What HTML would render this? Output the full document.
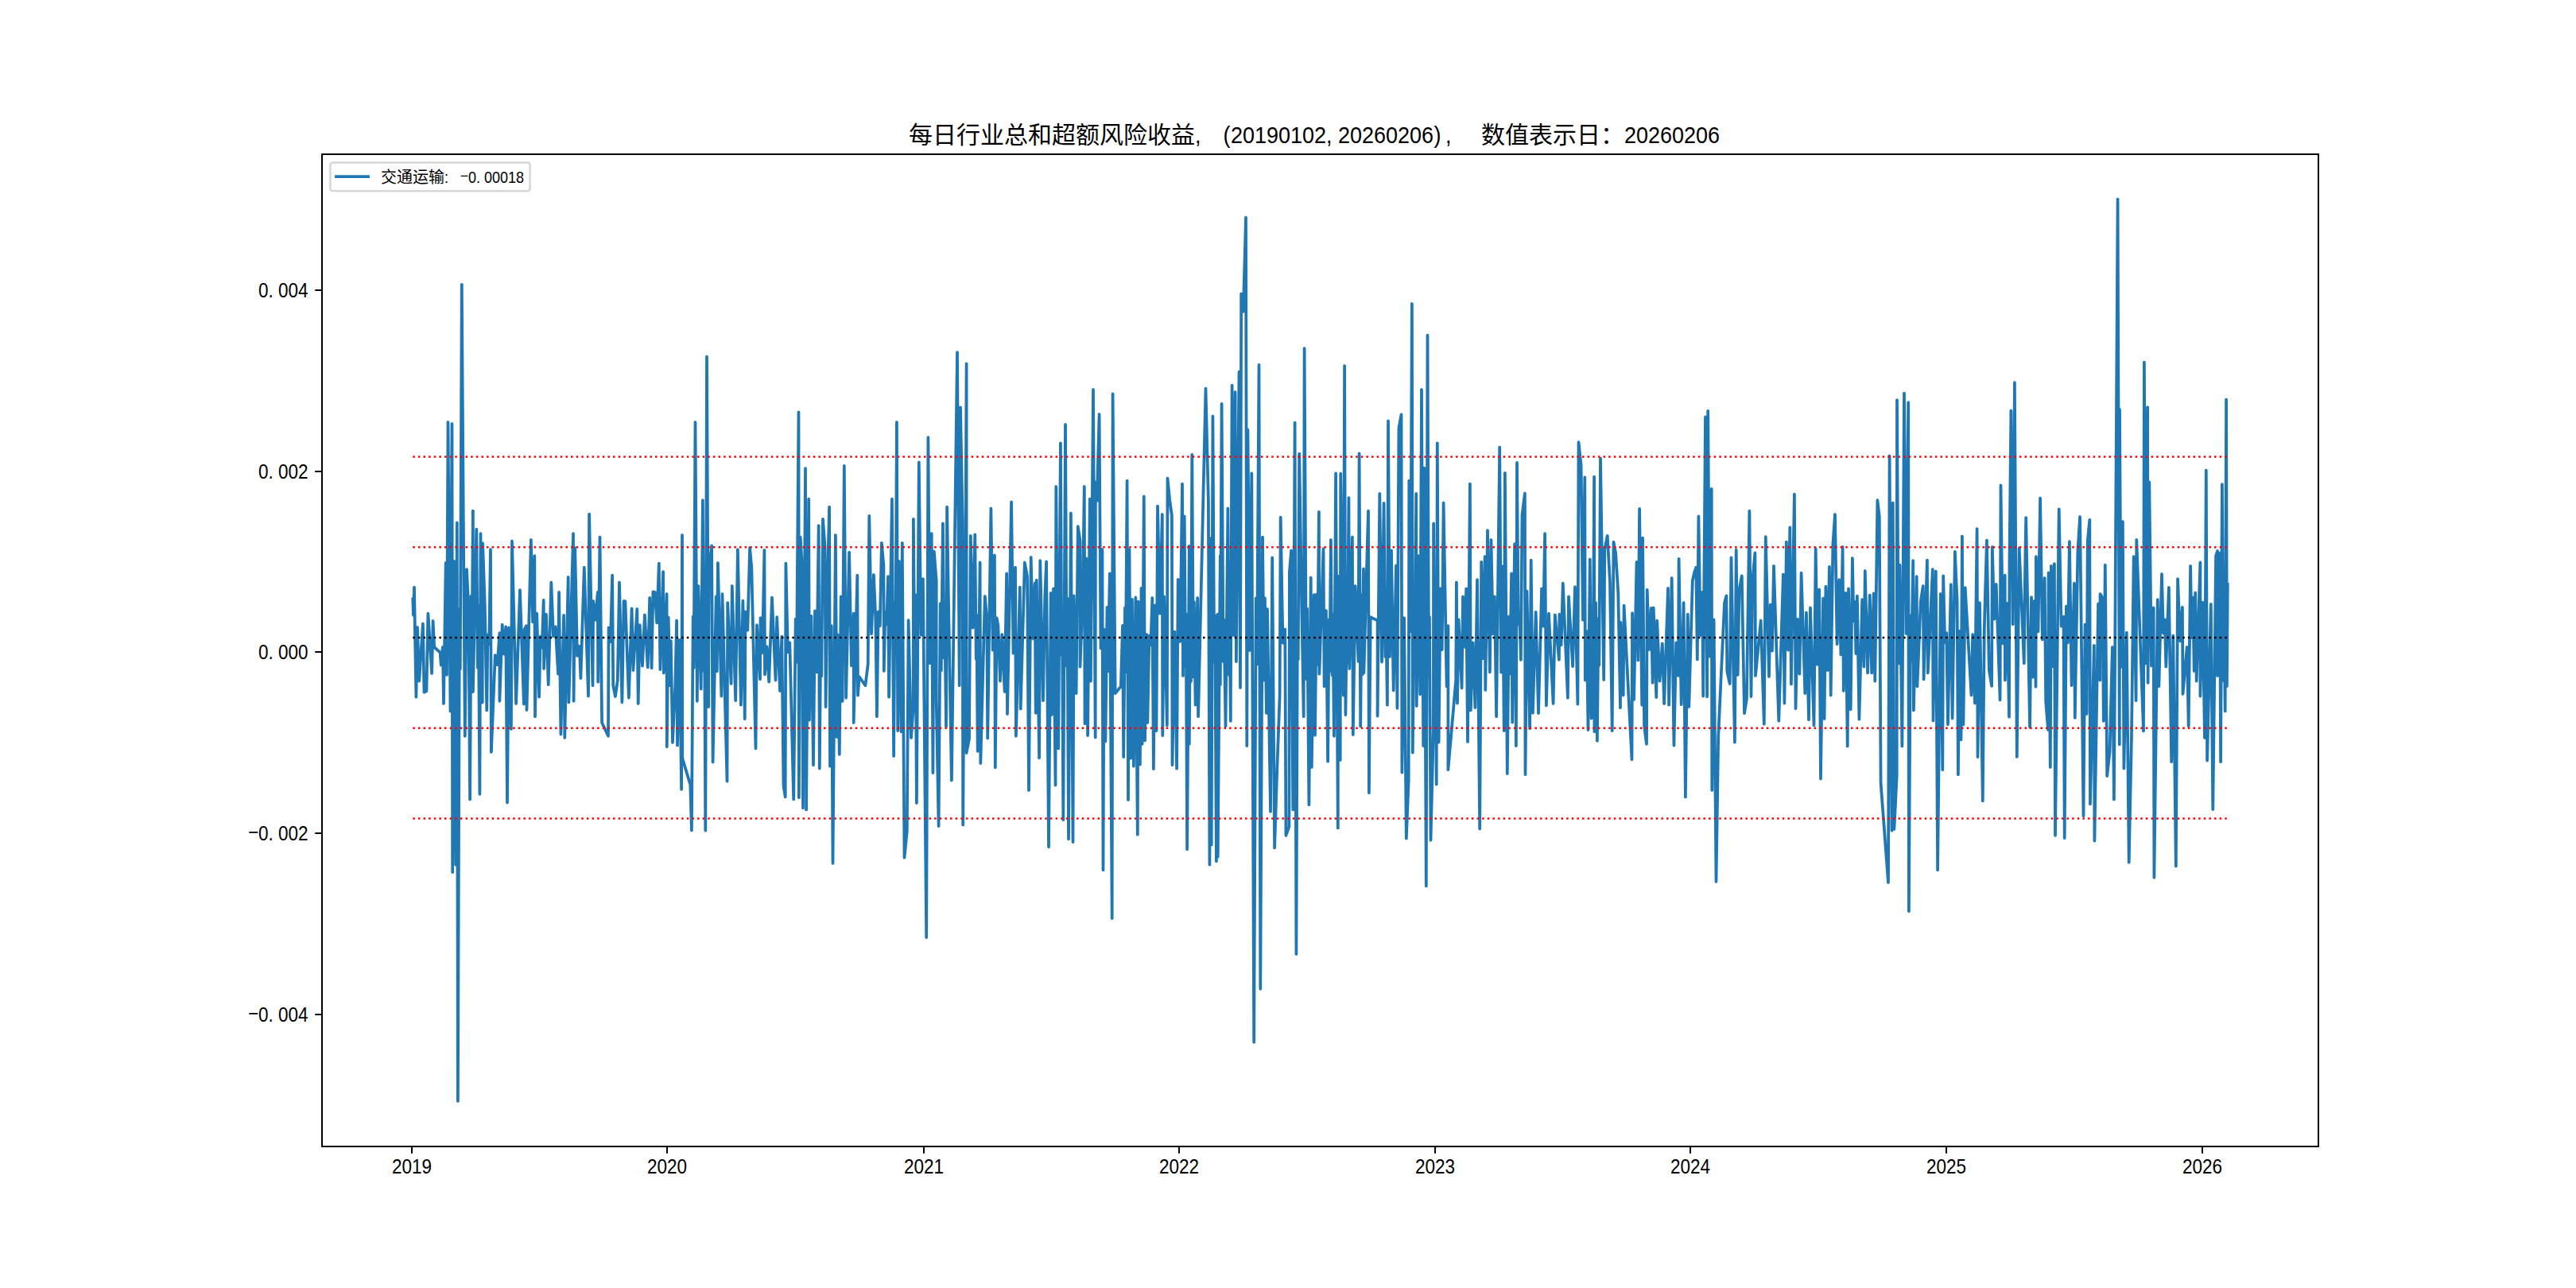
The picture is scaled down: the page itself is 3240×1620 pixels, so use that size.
<!DOCTYPE html>
<html lang="zh"><head><meta charset="utf-8"><title>每日行业总和超额风险收益</title>
<style>
html,body{margin:0;padding:0;background:#fff;}
body{width:3240px;height:1620px;overflow:hidden;}
svg{display:block;}
text{font-family:"Liberation Sans","Noto Sans CJK SC",sans-serif;fill:#000;}
.c{font-family:"Noto Sans CJK SC","WenQuanYi Zen Hei",sans-serif;}
</style></head><body>
<svg width="3240" height="1620" viewBox="0 0 3240 1620">
<rect width="3240" height="1620" fill="#fff"/>
<polyline fill="none" stroke="#1f77b4" stroke-width="3.75" stroke-linejoin="round" stroke-linecap="butt" points="519.2,751.5 519.9,773.8 521.0,738.6 523.4,876.7 525.0,789.0 527.2,856.6 531.9,784.5 533.5,870.7 536.4,869.3 538.4,771.6 543.1,847.0 544.6,781.0 546.2,814.0 553.6,820.7 554.7,836.5 556.9,814.0 558.0,885.0 560.7,708.0 562.0,848.8 563.5,531.0 566.5,894.5 568.5,533.0 569.2,1097.0 571.0,705.8 573.2,1087.6 574.8,657.3 575.9,1384.9 577.9,766.2 578.8,841.6 580.8,357.9 583.0,677.9 584.8,925.8 587.0,716.2 589.3,762.7 591.1,1005.5 592.6,749.6 593.4,838.3 594.9,642.6 594.9,870.0 599.3,665.6 600.9,839.8 601.7,761.4 603.4,998.8 604.5,671.2 606.7,883.4 607.1,683.4 609.8,761.6 612.3,893.4 613.4,798.4 615.2,810.4 617.0,691.2 617.9,945.9 622.8,824.2 625.6,836.2 628.4,796.2 628.4,881.8 631.7,785.7 633.9,822.6 636.2,788.4 638.0,1009.5 640.0,789.5 642.9,916.9 644.0,680.5 649.1,885.0 654.0,742.1 658.9,885.6 659.6,791.7 662.0,787.2 662.5,893.0 667.9,679.0 670.1,782.1 672.3,699.1 673.0,901.2 675.2,771.6 678.1,876.7 679.7,800.6 681.7,814.5 683.7,754.9 684.1,841.0 686.9,772.6 689.7,861.1 693.3,732.5 696.0,800.4 698.7,788.4 702.0,847.7 703.1,744.8 705.4,923.6 709.1,773.8 710.3,928.0 714.7,725.9 715.4,883.4 721.0,671.2 721.6,881.8 723.2,689.0 726.0,824.9 728.8,812.9 730.4,853.2 734.8,713.6 740.0,875.6 741.1,646.6 745.5,862.2 746.2,756.0 749.0,779.6 751.8,744.8 752.2,857.7 754.5,675.6 757.1,909.0 765.0,925.8 765.6,789.5 767.9,807.4 770.1,723.6 771.2,862.2 773.9,876.0 776.8,855.5 779.0,732.5 782.4,883.4 784.6,756.0 786.4,756.4 790.9,877.8 794.6,765.4 796.4,843.2 801.3,766.0 802.7,885.0 804.7,786.1 808.0,837.6 810.9,773.4 814.7,839.4 817.2,751.9 819.6,840.3 821.4,744.4 823.7,744.8 826.2,783.4 828.8,708.7 830.4,842.1 834.1,719.1 834.8,846.5 838.6,747.0 838.8,939.2 840.7,776.7 842.6,862.2 843.8,806.2 846.0,934.0 849.3,862.2 851.1,780.5 852.0,937.6 854.6,804.9 857.1,992.8 858.0,673.0 858.3,953.7 868.3,987.2 869.9,1044.5 871.7,775.5 872.6,839.9 874.5,531.0 876.8,881.8 878.4,737.0 881.7,866.6 883.9,629.2 885.3,844.0 885.9,754.2 887.3,1044.5 889.0,448.7 891.1,889.0 891.7,716.9 895.1,686.3 896.6,958.6 900.7,750.4 901.8,844.3 902.9,708.0 907.4,875.6 908.5,747.0 914.5,982.7 915.2,758.2 919.6,860.0 920.8,737.0 925.2,881.1 927.9,691.2 931.9,886.7 934.4,755.7 936.8,904.1 937.5,769.4 940.3,792.6 943.1,689.0 945.3,713.6 950.5,941.4 952.0,786.1 956.0,854.4 956.5,777.2 958.9,820.9 961.4,691.9 962.0,848.3 964.6,813.3 967.2,857.7 971.0,751.5 975.5,855.5 977.2,776.1 981.0,868.9 983.3,800.6 985.5,988.3 987.7,1002.4 988.4,708.7 990.9,820.4 993.3,808.4 998.2,1005.5 1000.7,778.7 1002.0,832.6 1004.5,518.4 1004.9,1003.2 1006.7,675.6 1008.9,712.5 1010.0,1016.2 1013.0,589.2 1014.1,1018.4 1017.2,627.6 1017.9,905.7 1020.4,774.8 1023.0,962.2 1025.0,768.3 1027.3,845.3 1029.7,661.1 1030.8,966.6 1032.5,778.8 1033.3,850.3 1035.0,652.9 1037.5,686.8 1038.6,889.0 1040.2,754.9 1043.1,637.7 1044.0,963.7 1045.8,787.2 1047.5,1085.8 1050.9,673.0 1052.5,926.9 1053.6,798.4 1055.8,948.8 1057.7,750.3 1059.6,881.8 1061.8,585.9 1064.1,877.8 1068.1,694.6 1070.9,837.1 1073.7,771.6 1073.7,909.0 1078.3,723.6 1079.0,874.5 1080.6,851.0 1088.4,862.2 1091.7,835.4 1093.3,648.8 1096.1,797.3 1098.9,723.0 1101.3,777.2 1102.9,901.2 1104.7,769.4 1106.8,787.1 1108.9,682.8 1111.4,711.3 1111.8,843.9 1113.4,769.4 1115.2,785.2 1117.0,725.2 1118.1,876.7 1121.9,627.6 1124.1,951.0 1125.6,757.7 1126.4,823.5 1127.9,531.0 1129.2,919.1 1130.8,705.8 1133.5,920.2 1134.8,682.8 1137.5,1078.7 1140.8,1045.2 1142.6,780.1 1146.0,928.0 1148.7,891.2 1148.9,652.9 1150.5,856.4 1151.3,748.2 1152.9,1010.0 1155.8,581.4 1158.4,798.6 1160.9,728.1 1165.2,1179.1 1167.4,550.2 1169.5,834.1 1171.7,671.2 1173.4,972.0 1174.8,693.5 1177.7,730.3 1177.7,881.1 1180.6,1039.0 1182.7,759.1 1183.8,843.5 1185.9,658.4 1187.5,827.5 1188.3,781.5 1190.0,913.5 1191.1,637.7 1193.3,776.1 1196.9,981.6 1204.0,443.1 1206.7,862.2 1208.0,512.3 1210.7,656.6 1211.2,1037.4 1212.9,763.5 1213.8,824.1 1215.6,457.4 1215.6,947.0 1219.0,929.1 1220.8,673.8 1223.5,789.6 1226.3,672.3 1227.7,828.7 1228.3,773.5 1229.7,944.8 1232.6,707.5 1233.3,960.0 1238.8,750.0 1241.3,779.4 1242.2,928.5 1246.4,639.5 1248.7,817.7 1250.9,698.4 1251.8,965.3 1253.6,777.2 1255.4,787.2 1258.0,856.6 1260.3,798.0 1263.6,870.0 1266.1,721.4 1267.0,897.9 1272.1,631.4 1274.5,821.7 1277.0,713.6 1277.9,925.8 1282.8,738.6 1283.7,891.6 1288.8,707.5 1292.0,724.7 1294.0,993.9 1296.7,700.9 1299.1,803.1 1301.6,733.7 1302.7,896.8 1303.8,729.6 1307.1,953.2 1308.3,705.1 1312.0,881.1 1314.3,749.3 1316.1,706.4 1319.0,1065.3 1321.7,745.9 1322.8,899.0 1325.0,740.4 1327.5,987.6 1328.3,612.0 1331.2,941.4 1333.9,557.3 1335.3,823.0 1335.9,765.8 1337.3,1031.2 1340.0,533.9 1341.6,837.4 1342.4,752.5 1344.0,1055.3 1346.9,645.5 1349.5,1059.0 1350.7,749.3 1353.6,872.2 1355.8,662.2 1358.5,680.1 1358.5,838.7 1361.8,749.3 1363.8,612.0 1364.5,910.2 1366.3,702.4 1368.1,925.1 1370.8,627.6 1371.9,856.6 1375.0,490.0 1377.7,927.4 1377.9,606.4 1379.7,629.9 1382.6,521.0 1384.5,815.3 1386.4,691.2 1387.5,1094.3 1388.6,791.7 1390.4,932.5 1392.5,763.8 1393.6,844.4 1395.8,721.4 1398.7,1155.0 1399.6,495.4 1402.7,872.2 1409.8,863.3 1412.0,786.8 1413.2,952.1 1415.0,764.5 1415.8,845.2 1417.6,604.6 1419.0,1006.1 1420.5,691.2 1422.1,953.7 1423.9,753.8 1425.9,963.7 1428.3,751.4 1430.8,1049.7 1431.5,756.6 1433.9,961.5 1435.5,739.9 1436.6,935.8 1438.8,624.3 1440.0,931.4 1442.2,798.0 1443.3,909.0 1445.5,799.5 1447.4,811.5 1449.3,752.0 1450.9,967.1 1452.7,761.4 1454.5,919.1 1456.0,636.6 1458.9,771.6 1461.8,647.0 1462.3,925.1 1464.1,750.4 1467.9,912.4 1468.5,601.5 1471.2,628.8 1473.9,648.8 1474.5,962.2 1477.3,794.6 1480.1,966.6 1481.7,728.8 1484.4,806.9 1487.0,608.7 1488.0,849.9 1489.7,649.3 1491.1,838.0 1491.7,772.3 1493.1,1068.2 1495.8,686.8 1495.8,935.8 1497.2,747.1 1497.9,856.9 1499.3,571.8 1501.0,851.4 1501.9,757.2 1503.6,886.7 1506.2,752.0 1507.1,901.2 1516.5,488.7 1519.9,631.4 1521.4,1087.6 1523.7,676.7 1523.7,1062.6 1525.4,523.5 1527.2,833.0 1528.1,774.0 1529.9,1083.2 1531.5,772.7 1531.7,1077.6 1534.8,699.1 1534.8,861.1 1536.6,507.9 1538.6,832.1 1539.5,779.5 1541.5,913.5 1544.4,639.5 1545.8,848.8 1546.4,768.0 1547.8,906.8 1549.6,484.6 1551.6,799.0 1553.6,493.1 1554.9,832.0 1558.5,467.7 1560.0,864.9 1561.2,369.5 1563.8,391.8 1567.0,273.5 1568.3,938.1 1569.4,540.6 1571.9,818.0 1574.3,595.3 1577.2,1310.8 1579.7,752.4 1581.0,835.5 1583.5,458.8 1585.3,1243.8 1588.0,675.6 1589.9,855.5 1590.9,752.3 1592.9,896.8 1594.0,766.0 1598.0,1020.7 1600.2,701.3 1603.1,1066.4 1606.2,969.3 1609.6,875.6 1610.7,650.6 1613.5,808.7 1616.3,791.7 1617.4,1050.8 1621.4,1039.6 1621.9,719.1 1624.1,692.4 1626.3,1018.4 1628.6,531.6 1630.4,1200.1 1631.9,782.0 1632.7,829.3 1634.2,570.7 1637.5,778.3 1639.7,901.2 1640.6,438.2 1642.9,853.9 1644.1,765.5 1646.4,1012.2 1648.7,726.5 1649.8,964.9 1652.7,748.2 1654.0,924.7 1656.0,747.7 1657.0,835.9 1658.9,643.9 1659.4,847.7 1664.5,690.1 1665.6,863.3 1667.9,768.0 1670.1,957.7 1671.6,779.4 1672.4,844.0 1673.9,679.0 1675.5,849.2 1676.3,772.6 1677.9,925.8 1680.1,595.3 1682.8,1041.4 1683.0,724.7 1685.7,955.9 1686.2,595.7 1689.7,874.5 1691.1,460.1 1692.4,899.0 1694.0,779.0 1694.8,833.6 1696.4,626.1 1697.3,841.0 1700.9,675.6 1701.8,924.0 1704.7,737.0 1708.5,832.0 1709.6,570.3 1711.2,913.5 1712.7,748.3 1713.4,848.5 1715.0,715.4 1715.4,846.5 1721.0,642.6 1721.9,997.2 1723.7,776.1 1732.6,780.5 1732.6,900.6 1735.3,620.9 1738.0,832.6 1740.6,632.8 1742.3,826.1 1743.2,773.4 1744.9,886.7 1746.0,529.4 1748.0,825.9 1750.0,692.4 1752.7,868.4 1756.0,711.3 1757.4,890.8 1759.4,538.4 1762.5,521.3 1763.4,971.5 1766.1,777.2 1768.8,1054.6 1771.7,980.5 1772.3,604.6 1774.1,794.1 1775.9,382.0 1776.8,946.5 1778.6,778.5 1779.5,824.1 1781.2,620.9 1781.7,887.9 1783.9,699.1 1786.2,873.3 1788.0,490.0 1790.2,938.1 1791.3,588.6 1793.8,1114.4 1795.5,421.7 1797.1,849.9 1797.9,775.8 1799.5,1056.8 1802.9,918.0 1803.1,658.4 1804.5,841.6 1805.3,766.3 1806.7,986.5 1807.8,557.3 1809.6,933.6 1811.8,740.4 1813.7,817.2 1815.6,632.5 1819.6,863.3 1821.4,787.2 1821.4,968.2 1831.2,855.5 1831.9,732.5 1833.0,884.5 1834.6,779.4 1838.6,865.5 1840.0,750.4 1842.1,813.8 1844.2,740.4 1846.0,932.9 1848.9,608.7 1849.8,893.4 1852.6,808.3 1855.4,890.1 1858.0,729.2 1861.2,1042.5 1863.2,706.9 1865.4,828.1 1867.6,700.2 1868.3,867.8 1871.0,667.1 1873.9,845.4 1875.5,679.0 1877.7,797.2 1879.9,750.4 1882.1,901.2 1886.2,562.5 1888.1,845.6 1890.0,712.5 1891.7,919.1 1892.9,594.8 1895.8,973.1 1897.9,775.3 1899.0,847.6 1901.1,721.4 1902.2,908.6 1905.1,684.1 1906.9,938.1 1908.0,581.9 1909.7,785.3 1911.3,771.1 1912.9,830.0 1914.5,647.7 1917.9,620.5 1918.5,974.2 1920.5,743.7 1924.1,916.2 1925.7,704.6 1927.9,896.8 1931.7,769.8 1935.0,897.2 1939.1,740.4 1941.1,787.6 1943.1,671.2 1944.9,887.4 1948.0,771.6 1953.6,885.0 1955.8,773.4 1960.9,829.8 1961.4,772.7 1963.6,811.2 1965.8,733.7 1971.9,877.8 1973.0,750.4 1978.1,838.1 1981.0,738.1 1984.4,885.6 1985.5,556.2 1988.6,585.2 1991.0,779.7 1993.3,600.4 1993.8,855.5 1995.7,793.8 1997.5,918.0 1999.8,703.5 2001.6,903.5 2003.0,777.4 2003.7,844.5 2005.1,599.7 2005.4,920.2 2007.1,758.2 2008.9,931.8 2010.5,777.9 2011.3,836.7 2013.0,576.3 2017.2,855.0 2018.3,691.2 2021.7,673.8 2025.0,732.5 2027.7,919.1 2029.5,681.6 2032.1,695.7 2035.3,745.9 2038.0,890.1 2038.4,782.8 2041.7,874.5 2042.6,761.6 2052.5,955.3 2053.1,771.2 2055.1,880.0 2058.5,706.9 2060.3,830.5 2062.1,639.9 2065.2,886.7 2066.1,676.7 2068.1,913.5 2071.0,935.8 2071.7,741.9 2074.2,817.1 2076.8,764.9 2078.6,858.8 2079.7,764.5 2083.3,877.1 2084.2,780.5 2087.5,856.6 2090.8,809.5 2093.1,885.2 2098.0,739.9 2099.1,886.7 2102.7,727.0 2105.4,937.6 2108.2,808.3 2110.9,849.9 2111.6,702.9 2114.7,886.1 2117.6,758.2 2119.9,1002.4 2122.8,772.7 2124.3,889.0 2128.8,730.3 2131.0,720.3 2133.3,713.6 2134.8,829.4 2136.4,649.3 2138.7,799.0 2141.1,744.8 2142.2,875.6 2145.0,524.4 2147.1,876.2 2148.2,516.8 2150.4,825.7 2152.7,614.9 2153.3,993.9 2155.6,779.4 2158.5,1108.8 2161.2,926.9 2169.0,758.2 2171.4,749.3 2172.3,844.3 2175.7,860.0 2177.5,701.3 2181.9,933.6 2183.7,691.7 2185.7,848.8 2187.5,742.6 2190.8,724.3 2194.0,897.2 2196.9,878.9 2200.4,642.6 2202.5,876.0 2204.2,730.3 2207.4,695.3 2208.0,849.9 2214.7,780.5 2218.8,910.8 2220.8,675.2 2225.0,851.0 2226.8,760.5 2228.9,818.6 2231.0,711.8 2237.3,906.8 2242.9,722.5 2244.4,884.5 2246.9,681.6 2249.1,817.6 2251.3,663.4 2252.9,860.4 2256.9,621.6 2258.5,891.2 2260.9,778.9 2263.4,847.7 2265.6,720.7 2270.3,872.2 2271.9,770.5 2275.0,905.3 2277.0,764.5 2281.5,912.4 2283.7,690.1 2285.9,835.8 2288.2,741.5 2290.0,979.4 2293.1,752.6 2294.6,904.1 2296.4,737.7 2298.7,843.1 2300.9,712.9 2302.7,874.5 2305.4,684.1 2308.0,647.0 2310.6,810.2 2313.2,729.2 2315.4,823.5 2317.6,687.9 2318.8,868.9 2321.4,745.9 2323.7,938.5 2325.0,740.4 2327.7,892.3 2329.9,702.0 2331.4,781.2 2332.9,756.9 2334.4,822.3 2335.9,749.7 2338.4,904.6 2342.2,754.2 2344.4,838.7 2345.8,718.0 2349.1,846.5 2351.8,748.6 2354.2,846.5 2356.7,746.4 2358.3,856.6 2361.4,629.2 2363.8,650.0 2365.6,985.0 2375.0,1110.0 2376.6,573.4 2379.5,1044.5 2380.8,632.5 2382.4,1043.0 2385.7,976.0 2386.0,503.2 2387.8,834.5 2389.5,710.7 2392.4,938.5 2395.0,494.6 2397.6,796.9 2400.2,506.2 2400.9,1146.0 2403.0,774.5 2404.1,831.4 2406.2,705.1 2406.9,893.4 2410.7,725.2 2411.4,863.3 2415.8,756.0 2418.8,737.0 2419.6,854.4 2423.9,704.6 2424.8,846.5 2430.8,716.2 2431.5,906.4 2434.8,718.5 2437.1,1094.3 2440.8,747.0 2443.3,968.2 2444.2,724.3 2446.2,808.2 2448.2,796.2 2450.0,911.3 2453.8,735.2 2455.6,903.5 2458.9,693.9 2461.6,756.0 2462.9,974.2 2464.7,793.8 2466.5,930.3 2467.9,674.5 2469.4,911.3 2471.7,739.2 2479.5,874.5 2481.2,798.0 2483.9,884.5 2486.6,665.1 2487.5,952.1 2490.0,758.2 2493.8,1007.3 2495.8,789.5 2498.9,679.6 2501.8,843.2 2505.1,862.9 2505.8,687.9 2508.3,778.6 2510.7,734.8 2515.6,880.5 2516.5,610.5 2519.1,809.3 2521.7,723.6 2521.9,855.5 2524.4,758.8 2527.0,901.7 2527.5,704.6 2529.4,516.5 2531.7,785.2 2533.9,481.1 2536.8,951.9 2539.7,689.5 2545.8,834.3 2546.4,762.7 2548.2,651.1 2553.1,914.6 2555.0,751.1 2556.8,851.6 2558.7,756.0 2560.5,863.7 2560.9,700.2 2563.5,794.3 2566.1,626.5 2568.9,804.4 2571.7,727.0 2573.2,883.4 2576.1,918.0 2576.6,720.3 2578.8,964.9 2579.9,711.8 2581.9,838.0 2583.9,709.1 2585.0,1050.8 2589.7,640.4 2592.6,787.6 2595.5,775.6 2596.7,1054.1 2598.9,762.7 2600.9,808.4 2602.9,681.2 2605.6,862.2 2608.9,733.7 2609.8,902.8 2613.4,692.4 2616.1,650.0 2620.5,1026.2 2622.5,785.5 2624.6,897.9 2625.7,681.2 2628.3,653.8 2629.0,1011.3 2633.9,811.8 2634.4,1057.5 2639.1,759.3 2641.3,855.5 2641.5,747.0 2644.6,752.6 2645.8,906.8 2647.8,710.7 2650.2,976.0 2653.6,944.8 2656.9,814.0 2658.9,1005.5 2660.3,798.8 2663.6,250.5 2665.8,936.3 2666.0,514.9 2667.9,838.8 2669.9,656.0 2671.4,966.4 2674.8,795.7 2677.7,1084.7 2681.0,924.7 2683.7,700.2 2686.6,881.1 2687.3,679.0 2696.0,919.5 2696.9,455.5 2699.0,834.4 2701.1,512.1 2701.6,858.8 2703.3,606.4 2706.0,837.5 2708.7,764.5 2709.4,1103.7 2713.8,754.2 2715.4,863.3 2719.0,722.0 2720.9,796.5 2722.8,779.4 2724.3,838.7 2727.9,738.8 2731.2,958.2 2733.3,799.5 2736.8,1089.4 2739.1,728.1 2742.0,806.1 2744.9,763.8 2745.5,872.9 2750.7,814.0 2752.7,913.1 2755.1,711.8 2756.6,802.1 2758.2,751.5 2759.7,844.0 2761.2,745.5 2762.7,856.6 2767.4,707.3 2767.4,875.6 2770.2,757.6 2773.0,928.0 2774.8,591.5 2776.1,956.6 2780.8,759.8 2783.3,1018.0 2787.1,699.1 2789.1,693.0 2789.1,849.9 2792.0,695.7 2793.1,958.2 2794.9,609.1 2796.4,856.0 2797.1,753.9 2798.7,894.5 2800.1,502.5 2800.9,863.0 2801.8,733.0"/>
<line x1="519.3" x2="2801.2" y1="574.4" y2="574.4" stroke="#ff0000" stroke-width="2.5" stroke-dasharray="2.5 4.125"/>
<line x1="519.3" x2="2801.2" y1="688.2" y2="688.2" stroke="#ff0000" stroke-width="2.5" stroke-dasharray="2.5 4.125"/>
<line x1="519.3" x2="2801.2" y1="915.8" y2="915.8" stroke="#ff0000" stroke-width="2.5" stroke-dasharray="2.5 4.125"/>
<line x1="519.3" x2="2801.2" y1="1029.6" y2="1029.6" stroke="#ff0000" stroke-width="2.5" stroke-dasharray="2.5 4.125"/>
<line x1="519.3" x2="2801.2" y1="802.0" y2="802.0" stroke="#000000" stroke-width="2.5" stroke-dasharray="2.5 4.125"/>
<rect x="405.0" y="194.0" width="2511.0" height="1248.0" fill="none" stroke="#000" stroke-width="2"/>
<line x1="396.25" x2="405.0" y1="365.0" y2="365.0" stroke="#000" stroke-width="2"/><text transform="translate(325.00,373.8) scale(0.9,1)" x="0.00 13.89 27.78 41.67 55.56" y="0.00 0.00 0.00 0.00 0.00" font-size="25" xml:space="preserve">0.004</text>
<line x1="396.25" x2="405.0" y1="593.0" y2="593.0" stroke="#000" stroke-width="2"/><text transform="translate(325.00,601.8) scale(0.9,1)" x="0.00 13.89 27.78 41.67 55.56" y="0.00 0.00 0.00 0.00 0.00" font-size="25" xml:space="preserve">0.002</text>
<line x1="396.25" x2="405.0" y1="820.0" y2="820.0" stroke="#000" stroke-width="2"/><text transform="translate(325.00,828.8) scale(0.9,1)" x="0.00 13.89 27.78 41.67 55.56" y="0.00 0.00 0.00 0.00 0.00" font-size="25" xml:space="preserve">0.000</text>
<line x1="396.25" x2="405.0" y1="1048.0" y2="1048.0" stroke="#000" stroke-width="2"/><text transform="translate(312.50,1056.8) scale(0.9,1)" x="-0.36 13.89 27.78 41.67 55.56 69.44" y="-1.90 0.00 0.00 0.00 0.00 0.00" font-size="25" xml:space="preserve">−0.002</text>
<line x1="396.25" x2="405.0" y1="1276.0" y2="1276.0" stroke="#000" stroke-width="2"/><text transform="translate(312.50,1284.8) scale(0.9,1)" x="-0.36 13.89 27.78 41.67 55.56 69.44" y="-1.90 0.00 0.00 0.00 0.00 0.00" font-size="25" xml:space="preserve">−0.004</text>
<line x1="518.0" x2="518.0" y1="1442.0" y2="1450.75" stroke="#000" stroke-width="2"/><text transform="translate(493.00,1476.2) scale(0.9,1)" x="0.00 13.89 27.78 41.67" y="0.00 0.00 0.00 0.00" font-size="25" xml:space="preserve">2019</text>
<line x1="839.0" x2="839.0" y1="1442.0" y2="1450.75" stroke="#000" stroke-width="2"/><text transform="translate(814.00,1476.2) scale(0.9,1)" x="0.00 13.89 27.78 41.67" y="0.00 0.00 0.00 0.00" font-size="25" xml:space="preserve">2020</text>
<line x1="1162.0" x2="1162.0" y1="1442.0" y2="1450.75" stroke="#000" stroke-width="2"/><text transform="translate(1137.00,1476.2) scale(0.9,1)" x="0.00 13.89 27.78 41.67" y="0.00 0.00 0.00 0.00" font-size="25" xml:space="preserve">2021</text>
<line x1="1483.0" x2="1483.0" y1="1442.0" y2="1450.75" stroke="#000" stroke-width="2"/><text transform="translate(1458.00,1476.2) scale(0.9,1)" x="0.00 13.89 27.78 41.67" y="0.00 0.00 0.00 0.00" font-size="25" xml:space="preserve">2022</text>
<line x1="1805.0" x2="1805.0" y1="1442.0" y2="1450.75" stroke="#000" stroke-width="2"/><text transform="translate(1780.00,1476.2) scale(0.9,1)" x="0.00 13.89 27.78 41.67" y="0.00 0.00 0.00 0.00" font-size="25" xml:space="preserve">2023</text>
<line x1="2126.0" x2="2126.0" y1="1442.0" y2="1450.75" stroke="#000" stroke-width="2"/><text transform="translate(2101.00,1476.2) scale(0.9,1)" x="0.00 13.89 27.78 41.67" y="0.00 0.00 0.00 0.00" font-size="25" xml:space="preserve">2024</text>
<line x1="2448.0" x2="2448.0" y1="1442.0" y2="1450.75" stroke="#000" stroke-width="2"/><text transform="translate(2423.00,1476.2) scale(0.9,1)" x="0.00 13.89 27.78 41.67" y="0.00 0.00 0.00 0.00" font-size="25" xml:space="preserve">2025</text>
<line x1="2770.0" x2="2770.0" y1="1442.0" y2="1450.75" stroke="#000" stroke-width="2"/><text transform="translate(2745.00,1476.2) scale(0.9,1)" x="0.00 13.89 27.78 41.67" y="0.00 0.00 0.00 0.00" font-size="25" xml:space="preserve">2026</text>
<text class="c" x="1143.00 1173.00 1203.00 1233.00 1263.00 1293.00 1323.00 1353.00 1383.00 1413.00 1443.00 1473.00" y="180.4" font-size="30">每日行业总和超额风险收益</text><text transform="translate(1503.00,180.4) scale(0.9,1)" x="0.00 16.67 39.41 50.00 66.67 83.33 100.00 116.67 133.33 150.00 166.67 183.33 200.00 216.67 233.33 250.00 266.67 283.33 300.00 316.67 333.93 350.00 366.67 383.33" y="0.00 0.00 0.00 0.00 0.00 0.00 0.00 0.00 0.00 0.00 0.00 0.00 0.00 0.00 0.00 0.00 0.00 0.00 0.00 0.00 0.00 0.00 0.00 0.00" font-size="30" xml:space="preserve">, (20190102,20260206),  </text><text class="c" x="1863.00 1893.00 1923.00 1953.00 1983.00 2013.00" y="180.4" font-size="30">数值表示日：</text><text transform="translate(2043.00,180.4) scale(0.9,1)" x="0.00 16.67 33.33 50.00 66.67 83.33 100.00 116.67" y="0.00 0.00 0.00 0.00 0.00 0.00 0.00 0.00" font-size="30" xml:space="preserve">20260206</text>
<rect x="415.4" y="204.5" width="251.2" height="35.8" rx="3.2" ry="3.2" fill="#fff" fill-opacity="0.8" stroke="#cccccc" stroke-opacity="0.8" stroke-width="2.5"/>
<line x1="421.1" x2="464.9" y1="222" y2="222" stroke="#1f77b4" stroke-width="3.75"/>
<text class="c" x="479.00 499.00 519.00 539.00" y="229.6" font-size="20">交通运输</text><text transform="translate(559.00,229.6) scale(0.9,1)" x="0.00 11.11 21.94 33.33 44.44 55.56 66.67 77.78 88.89 100.00" y="0.00 0.00 -1.52 0.00 0.00 0.00 0.00 0.00 0.00 0.00" font-size="20" xml:space="preserve">: −0.00018</text>
</svg></body></html>
